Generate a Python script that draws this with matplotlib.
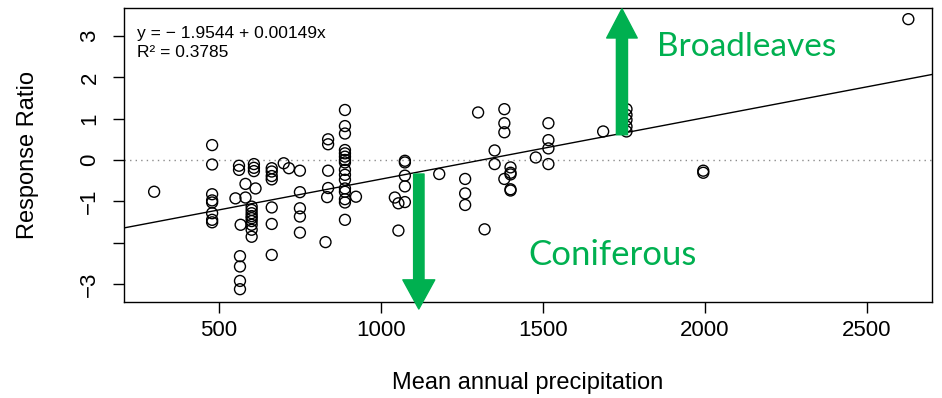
import matplotlib
matplotlib.use('Agg')
import matplotlib.pyplot as plt

# mean annual precipitation (x) and response ratio (y)
precip = [300,
          479, 479, 479, 479, 479, 479, 479, 479,
          551, 562, 562, 567,
          565, 565, 565, 565,
          582, 582,
          608, 608, 608, 613,
          601, 601, 601, 601, 601, 601, 601, 601, 601,
          663, 663, 663, 663, 663, 663, 663,
          700, 716,
          750, 750, 750, 750, 750,
          829, 837, 837, 837, 837, 834,
          889, 889, 889, 889, 889, 889, 889, 889, 889, 889, 889, 889, 889, 889, 889, 889,
          923, 1043, 1054, 1054,
          1074, 1074, 1074, 1074, 1074,
          1180, 1260, 1260, 1260, 1300, 1320, 1351, 1351,
          1381, 1381, 1381, 1381,
          1400, 1400, 1400, 1400, 1400,
          1478, 1517, 1517, 1517, 1517,
          1686, 1758, 1758, 1758, 1758, 1758,
          1995, 1995, 2628]
ratio = [-0.77,
         0.36, -0.11, -0.83, -0.98, -1.03, -1.29, -1.45, -1.51,
         -0.93, -0.14, -0.24, -1.57,
         -2.33, -2.58, -2.93, -3.13,
         -0.58, -0.91,
         -0.10, -0.19, -0.27, -0.69,
         -1.13, -1.21, -1.29, -1.36, -1.41, -1.48, -1.57, -1.69, -1.86,
         -0.20, -0.28, -0.39, -0.47, -1.15, -1.55, -2.30,
         -0.08, -0.20,
         -0.26, -0.78, -1.17, -1.37, -1.76,
         -1.99, 0.50, 0.38, -0.26, -0.68, -0.90,
         1.21, 0.82, 0.64, 0.24, 0.16, 0.08, 0.0, -0.06, -0.24, -0.36, -0.48, -0.69, -0.77, -0.95, -1.03, -1.45,
         -0.89, -0.91, -1.05, -1.71,
         -0.02, -0.06, -0.38, -0.64, -1.02,
         -0.34, -0.46, -0.81, -1.09, 1.15, -1.68, 0.23, -0.10,
         1.23, 0.89, 0.67, -0.46,
         -0.18, -0.31, -0.35, -0.71, -0.74,
         0.06, 0.89, 0.48, 0.28, -0.10,
         0.69, 1.23, 1.09, 0.97, 0.81, 0.69,
         -0.26, -0.31, 3.41]

intercept = -1.9544
slope = 0.00149
r_squared = 0.3785

x_ticks = [500, 1000, 1500, 2000, 2500]
y_ticks = [-3, -2, -1, 0, 1, 2, 3]
y_tick_labels = ['\u22123', '', '\u22121', '0', '1', '2', '3']

green = '#00b050'
plt.rcParams['font.family'] = ['Liberation Sans', 'DejaVu Sans']

fig = plt.figure(figsize=(9.42, 3.98), dpi=100)
ax = fig.add_axes([124/942, 1 - 302/398, (932 - 124)/942, (302 - 8)/398])
ax.set_xlim(207, 2701)
ax.set_ylim(-3.44, 3.68)

ax.axhline(0, color='0.55', lw=1, ls=(0, (1, 3)))
ax.scatter(precip, ratio, s=62, facecolors='none', edgecolors='black', linewidths=1.0, zorder=3)

# fitted line across the whole panel (abline style)
xs = ax.get_xlim()
ax.plot(xs, [intercept + slope * v for v in xs], color='black', lw=1)

ax.text(247, 2.95, 'y = \u2212 1.9544 + 0.00149x', fontsize=12.5)
ax.text(247, 2.50, 'R\u00b2 = %.4f' % r_squared, fontsize=12.5)

ax.set_xticks(x_ticks)
ax.set_yticks(y_ticks)
ax.set_yticklabels(y_tick_labels, rotation=90, va='center')
ax.tick_params(direction='out', length=8, width=1, labelsize=16)
ax.tick_params(axis='x', pad=5)
ax.tick_params(axis='y', pad=9)
for s in ax.spines.values():
    s.set_linewidth(1)

ax.set_xlabel('Mean annual precipitation', fontsize=17)
ax.set_ylabel('Response Ratio', fontsize=17)
ax.xaxis.set_label_coords(0.5, -0.276)
ax.xaxis.label.set_va('center')
ax.yaxis.set_label_coords(-0.119, 0.5)
ax.yaxis.label.set_va('center')

# green annotation arrows and labels
ax.annotate('', xy=(1744, 3.66), xytext=(1744, 0.61), annotation_clip=False,
            arrowprops=dict(arrowstyle='simple,head_length=21,head_width=22,tail_width=8',
                            mutation_scale=1, color=green, shrinkA=0, shrinkB=0))
ax.annotate('', xy=(1117, -3.61), xytext=(1117, -0.34), annotation_clip=False,
            arrowprops=dict(arrowstyle='simple,head_length=21,head_width=23,tail_width=7.5',
                            mutation_scale=1, color=green, shrinkA=0, shrinkB=0))
ax.text(1852, 2.52, 'Broadleaves', color=green, fontsize=24, family=['Lato', 'DejaVu Sans'])
ax.text(1454, -2.54, 'Coniferous', color=green, fontsize=25, family=['Lato', 'DejaVu Sans'])

fig.savefig('out.png', dpi=100)
